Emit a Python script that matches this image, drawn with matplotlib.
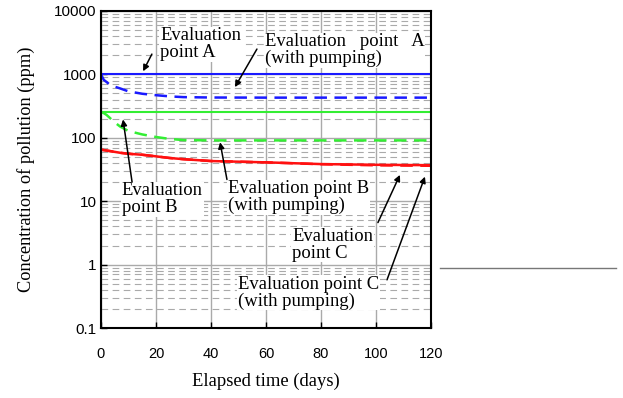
import matplotlib.pyplot as plt
from matplotlib.lines import Line2D

days = [0, 1, 2, 3, 5, 7, 10, 15, 20, 25, 30, 40, 60, 80, 100, 120]
point_a = [1000] * len(days)
point_a_pump = [1000, 820, 760, 700, 640, 600, 540, 495, 470, 450, 438, 432, 430, 430, 430, 430]
point_b = [255] * len(days)
point_b_pump = [255, 245, 230, 210, 175, 150, 128, 113, 103, 96, 92, 91, 91, 91, 91, 91]
point_c = [65, 64, 63, 62, 60, 58, 56, 54, 51, 48, 46, 43, 41, 38.5, 37.5, 37]
point_c_pump = [65, 64, 63, 62, 60, 58, 56, 54, 51, 48, 46, 43, 41, 38.3, 36.8, 36.2]

serif = 'Liberation Serif'
plt.rcParams['font.family'] = 'Liberation Sans'

fig = plt.figure(figsize=(6.23, 3.98), dpi=100)
ax = fig.add_axes([101 / 623, 1 - 328 / 398, 330 / 623, 317 / 398])

ax.set_yscale('log')
ax.set_xlim(0, 120)
ax.set_ylim(0.1, 10000)

ax.grid(True, which='major', color='#aaaaaa', lw=1.0, ls='-')
ax.grid(True, which='minor', axis='y', color='#aaaaaa', lw=0.8, ls=(0, (6, 4)))
ax.set_axisbelow(True)

ax.plot(days, point_a, color='#1a1aff', lw=1.5)
ax.plot(days, point_a_pump, color='#1a1aff', lw=1.8, ls=(0, (5, 3)))
ax.plot(days, point_b, color='#33ee33', lw=1.5)
ax.plot(days, point_b_pump, color='#33ee33', lw=1.8, ls=(0, (5, 3)))
ax.plot(days, point_c, color='#ff1010', lw=1.8)
ax.plot(days, point_c_pump, color='#ff1010', lw=1.8, ls=(0, (5, 3)))

ax.set_xticks([0, 20, 40, 60, 80, 100, 120])
ax.set_yticks([0.1, 1, 10, 100, 1000, 10000])
ax.set_yticklabels(['0.1', '1', '10', '100', '1000', '10000'])
ax.tick_params(which='major', direction='in', length=4, width=1)
ax.tick_params(which='minor', length=0)
ax.tick_params(axis='x', pad=14, labelsize=10.5)
ax.tick_params(axis='y', pad=3, labelsize=11)
for s in ax.spines.values():
    s.set_linewidth(1.5)

ax.set_xlabel('Elapsed time (days)', family=serif, fontsize=13.4, labelpad=8)
ax.set_ylabel('Concentration of pollution (ppm)', family=serif, fontsize=13.2, labelpad=14)

box = dict(facecolor='white', edgecolor='none', pad=0.5)
arrow = dict(arrowstyle='-|>', color='black', lw=1.1, mutation_scale=9, shrinkA=0, shrinkB=0)
notes = [
    ('Evaluation\npoint A', (15.3, 1120), (21.5, 3000), (18.5, 2090)),
    ('Evaluation   point   A\n(with pumping)', (48.7, 630), (59.6, 2400), (56.7, 2510)),
    ('Evaluation\npoint B', (8.0, 195), (7.6, 10.7), (11.3, 20)),
    ('Evaluation point B\n(with pumping)', (43.3, 85), (46.2, 11.5), (45.8, 22)),
    ('Evaluation\npoint C', (108.7, 26), (69.5, 2.06), (100.7, 4.6)),
    ('Evaluation point C\n(with pumping)', (117.8, 24.4), (49.8, 0.36), (104.0, 0.575)),
]
for label, head, pos, tail in notes:
    ax.text(pos[0], pos[1], label, family=serif, fontsize=13.4, va='center', ha='left',
            linespacing=0.98, bbox=box, zorder=5)
    ax.annotate('', xy=head, xytext=tail, arrowprops=arrow, zorder=6)

fig.add_artist(Line2D([440 / 623, 616 / 623], [1 - 268 / 398, 1 - 268 / 398],
                      transform=fig.transFigure, color='#777777', lw=1.0))

fig.savefig('out.png', dpi=100)
